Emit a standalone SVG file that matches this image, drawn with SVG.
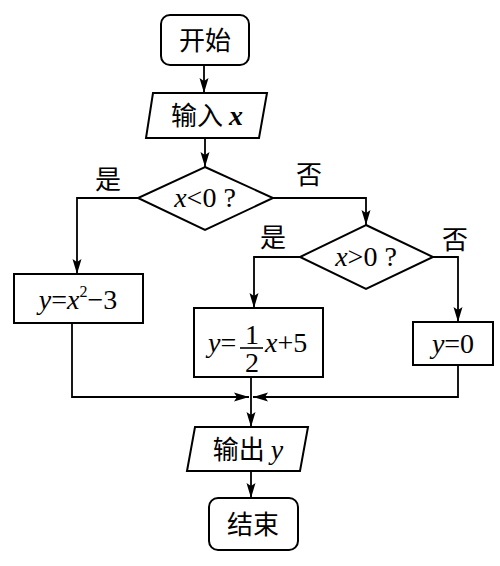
<svg xmlns="http://www.w3.org/2000/svg" width="500" height="566" viewBox="0 0 500 566">
<defs>
<style>
.s{fill:#fff;stroke:#000;stroke-width:2}
.c{fill:none;stroke:#000;stroke-width:1.8}
.cj{font-family:"Noto Sans CJK SC",sans-serif;font-size:26px;fill:#000}
.m{font-family:"Liberation Serif",serif;font-size:28px;fill:#000}
.i{font-style:italic}
</style>
<marker id="a" markerUnits="userSpaceOnUse" markerWidth="16" markerHeight="10" refX="15" refY="5" orient="auto">
<path d="M0,0.5 L15,5 L0,9.5 L3,5 z" fill="#000"/>
</marker>
</defs>
<g id="connectors">
<path class="c" d="M204,65 V93" marker-end="url(#a)"/>
<path class="c" d="M205,138 V167" marker-end="url(#a)"/>
<path class="c" d="M138,198 H77 V274" marker-end="url(#a)"/>
<path class="c" d="M273,198 H366 V225" marker-end="url(#a)"/>
<path class="c" d="M300,257 H254 V308" marker-end="url(#a)"/>
<path class="c" d="M433,257 H458 V322" marker-end="url(#a)"/>
<path class="c" d="M72,323 V397 H249" marker-end="url(#a)"/>
<path class="c" d="M458,365 V397 H253" marker-end="url(#a)"/>
<path class="c" d="M251,377 V427" marker-end="url(#a)"/>
<path class="c" d="M251,471 V498" marker-end="url(#a)"/>
</g>
<g id="start">
<rect class="s" x="161" y="15" width="88" height="50" rx="9"/>
<text class="cj" x="205" y="50" text-anchor="middle">开始</text>
</g>
<g id="input">
<polygon class="s" points="153,93 267,93 259,138 146,138"/>
<text x="207" y="125" text-anchor="middle"><tspan class="cj">输入 </tspan><tspan class="m i" font-weight="bold" font-size="27">x</tspan></text>
</g>
<g id="decision1">
<polygon class="s" points="205,167 273,198 205,230 138,198"/>
<text class="m" x="205" y="207" text-anchor="middle" font-size="26"><tspan class="i">x</tspan>&lt;0 ?</text>
</g>
<g id="labels">
<text class="cj" x="108" y="189" text-anchor="middle" font-size="25">是</text>
<text class="cj" x="309" y="184" text-anchor="middle" font-size="25">否</text>
<text class="cj" x="273" y="247" text-anchor="middle" font-size="25">是</text>
<text class="cj" x="455" y="249" text-anchor="middle" font-size="25">否</text>
</g>
<g id="decision2">
<polygon class="s" points="366,225 433,257 366,289 300,257"/>
<text class="m" x="366" y="266" text-anchor="middle" font-size="26"><tspan class="i">x</tspan>&gt;0 ?</text>
</g>
<g id="box1">
<rect class="s" x="14" y="274" width="129" height="49"/>
<text class="m" x="78" y="309" text-anchor="middle"><tspan class="i">y</tspan>=<tspan class="i">x</tspan><tspan font-size="16" dy="-12">2</tspan><tspan dy="12">−3</tspan></text>
</g>
<g id="box2">
<rect class="s" x="194" y="308" width="129" height="69"/>
<text class="m" x="208" y="352"><tspan class="i">y</tspan>=</text>
<text class="m" x="252" y="344" text-anchor="middle" font-size="23">1</text>
<line x1="240" y1="348" x2="263" y2="348" stroke="#000" stroke-width="1.6"/>
<text class="m" x="252" y="372" text-anchor="middle" font-size="23">2</text>
<text class="m" x="265" y="352"><tspan class="i">x</tspan>+5</text>
</g>
<g id="box3">
<rect class="s" x="413" y="322" width="80" height="43"/>
<text class="m" x="453" y="353" text-anchor="middle"><tspan class="i">y</tspan>=0</text>
</g>
<g id="output">
<polygon class="s" points="195,427 308,427 300,471 187,471"/>
<text x="248" y="459" text-anchor="middle"><tspan class="cj">输出 </tspan><tspan class="m i">y</tspan></text>
</g>
<g id="end">
<rect class="s" x="209" y="498" width="89" height="52" rx="9"/>
<text class="cj" x="253" y="534" text-anchor="middle">结束</text>
</g>
</svg>
